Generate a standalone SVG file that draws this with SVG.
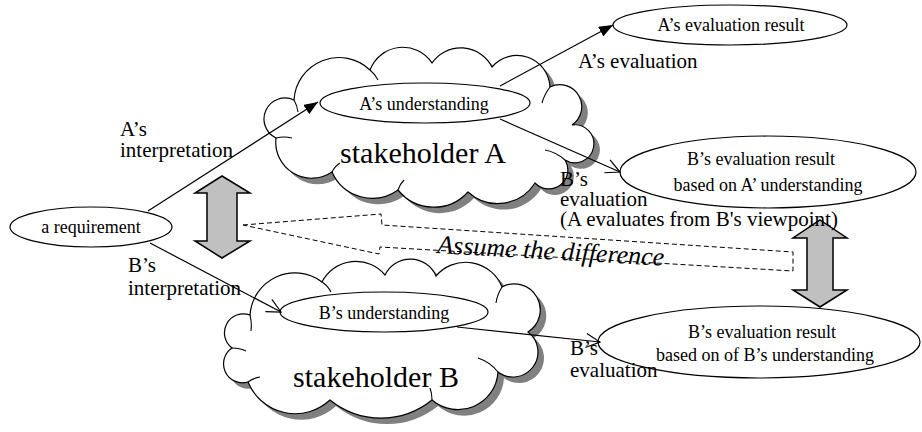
<svg xmlns="http://www.w3.org/2000/svg" xmlns:xlink="http://www.w3.org/1999/xlink" width="922" height="432" viewBox="0 0 922 432">
  <style>
    text { font-family: "Liberation Serif", "Times New Roman", serif; fill: #000; }
    .node { fill: #fff; stroke: #000; stroke-width: 1.2; }
    .cloud { fill: #fff; stroke: #000; stroke-width: 1.2; }
    .shadow { fill: #808080; stroke: none; }
    .in { font-size: 18px; text-anchor: middle; }
    .lbl { font-size: 21px; }
    .big { font-size: 30px; text-anchor: middle; }
    .note { font-size: 26px; font-style: italic; }
    .conn { fill: none; stroke: #000; stroke-width: 1.2; }
    .block { fill: #c0c0c0; stroke: #000; stroke-width: 1.5; }
    .dash { fill: none; stroke: #000; stroke-width: 1; stroke-dasharray: 5 3; }
    .puff { fill: none; stroke: #000; stroke-width: 1.1; }
  </style>
  <defs>
    <marker id="solid" viewBox="0 0 14 11" refX="14" refY="5.5" markerWidth="14" markerHeight="11" markerUnits="userSpaceOnUse" orient="auto">
      <path d="M0,0 L14,5.5 L0,11 Z" fill="#000"/>
    </marker>
    <marker id="open" viewBox="-1 -1 16 16" refX="14" refY="7" markerWidth="16" markerHeight="16" markerUnits="userSpaceOnUse" orient="auto">
      <path d="M0,0 L14,7 L0,14" fill="none" stroke="#000" stroke-width="1.2"/>
    </marker>
    <path id="cloudA" d="M276,138 A21,21 0 0 1 294,100 A45,45 0 0 1 370,70 A35,35 0 0 1 432,63 A35,35 0 0 1 492,67 A33,33 0 0 1 550,87 A22,22 0 0 1 572,125 A19,19 0 1 1 565,160 A19,19 0 0 1 535,183 A44,44 0 0 1 468,192 A46,46 0 0 1 398,190 A44,44 0 0 1 332,172 A36,36 0 0 1 276,138 Z"/>
    <path id="cloudB" d="M232,348 A19,19 0 0 1 250,315 A45,45 0 0 1 322,282 A38,38 0 0 1 385,275 A28,28 0 0 1 436,276 A39,39 0 0 1 502,287 A26,26 0 0 1 528,332 A25,25 0 0 1 498,372 A40,40 0 0 1 432,400 A81,81 0 0 1 330,400 A51,51 0 0 1 248,382 A19,19 0 0 1 232,348 Z"/>
  </defs>

  <!-- stakeholder clouds with drop shadows and inner puff lines -->
  <g id="stakeholder-a">
    <use xlink:href="#cloudA" href="#cloudA" class="shadow" transform="translate(6,6)"/>
    <use xlink:href="#cloudA" href="#cloudA" class="cloud"/>
    <path class="puff" d="M294,100 q3,5 4,12 M370,70 q5,4 8,10 M550,87 q-6,8 -8,16 M565,160 q-9,-8 -20,-10 M398,190 q2,-6 6,-10 M332,172 q3,-6 8,-9 M276,138 q8,-2 16,0"/>
    <text class="big" x="423" y="163">stakeholder A</text>
  </g>
  <g id="stakeholder-b">
    <use xlink:href="#cloudB" href="#cloudB" class="shadow" transform="translate(6,6)"/>
    <use xlink:href="#cloudB" href="#cloudB" class="cloud"/>
    <path class="puff" d="M250,315 q2,8 1,16 M322,282 q6,4 9,10 M502,287 q-5,8 -6,16 M498,372 q-8,-10 -20,-14 M432,400 q0,-7 -2,-12 M248,382 q5,-4 12,-5 M232,348 q8,0 14,3"/>
    <text class="big" x="376" y="387">stakeholder B</text>
  </g>

  <!-- ellipse nodes -->
  <g id="requirement">
    <ellipse class="node" cx="91" cy="227" rx="81" ry="20"/>
    <text class="in" x="91" y="233">a requirement</text>
  </g>
  <g id="a-understanding">
    <ellipse class="node" cx="425" cy="103" rx="105" ry="20"/>
    <text class="in" x="424" y="110">A’s understanding</text>
  </g>
  <g id="b-understanding">
    <ellipse class="node" cx="384" cy="312" rx="104" ry="20"/>
    <text class="in" x="384" y="319">B’s understanding</text>
  </g>
  <g id="a-result">
    <ellipse class="node" cx="730" cy="25" rx="117" ry="20"/>
    <text class="in" x="731" y="31">A’s evaluation result</text>
  </g>
  <g id="b-result-from-a">
    <ellipse class="node" cx="768" cy="172" rx="148" ry="36"/>
    <text class="in" x="761" y="165">B’s evaluation result</text>
    <text class="in" x="768" y="191">based on A’ understanding</text>
  </g>
  <g id="b-result-from-b">
    <ellipse class="node" cx="759" cy="342" rx="161" ry="36"/>
    <text class="in" x="762" y="338">B’s evaluation result</text>
    <text class="in" x="765" y="361">based on of B’s understanding</text>
  </g>

  <!-- difference indicators -->
  <g id="diff-interpretation">
    <polygon class="block" points="222,176 250,193 237,193 237,241 250,241 222,258 195,241 207,241 207,193 195,193"/>
  </g>
  <g id="diff-evaluation">
    <polygon class="block" points="820,220 847,238 833,238 833,290 847,290 820,307 793,290 807,290 807,238 793,238"/>
  </g>
  <g id="assume-difference">
    <polygon class="dash" points="243,225 381,214 382,225 793,252 793,271 380,247 379,254"/>
    <text class="note" x="437" y="253" transform="rotate(3.2 437 253)">Assume the difference</text>
  </g>

  <!-- connectors -->
  <g id="connectors">
    <line class="conn" x1="148" y1="211" x2="318" y2="102" marker-end="url(#solid)"/>
    <line class="conn" x1="150" y1="243" x2="281" y2="312" marker-end="url(#open)"/>
    <line class="conn" x1="500" y1="86" x2="613" y2="25" marker-end="url(#solid)"/>
    <line class="conn" x1="500" y1="119" x2="620" y2="172" marker-end="url(#open)"/>
    <line class="conn" x1="457" y1="327" x2="600" y2="342" marker-end="url(#open)"/>
  </g>

  <!-- connector labels -->
  <g id="labels">
    <text class="lbl" x="120" y="136">A’s</text>
    <text class="lbl" x="120" y="157">interpretation</text>
    <text class="lbl" x="128" y="272">B’s</text>
    <text class="lbl" x="128" y="295">interpretation</text>
    <text class="lbl" x="578" y="68">A’s evaluation</text>
    <text class="lbl" x="560" y="186">B’s</text>
    <text class="lbl" x="560" y="206">evaluation</text>
    <text class="lbl" x="560" y="226">(A evaluates from B's viewpoint)</text>
    <text class="lbl" x="570" y="355">B’s</text>
    <text class="lbl" x="570" y="377">evaluation</text>
  </g>
</svg>
